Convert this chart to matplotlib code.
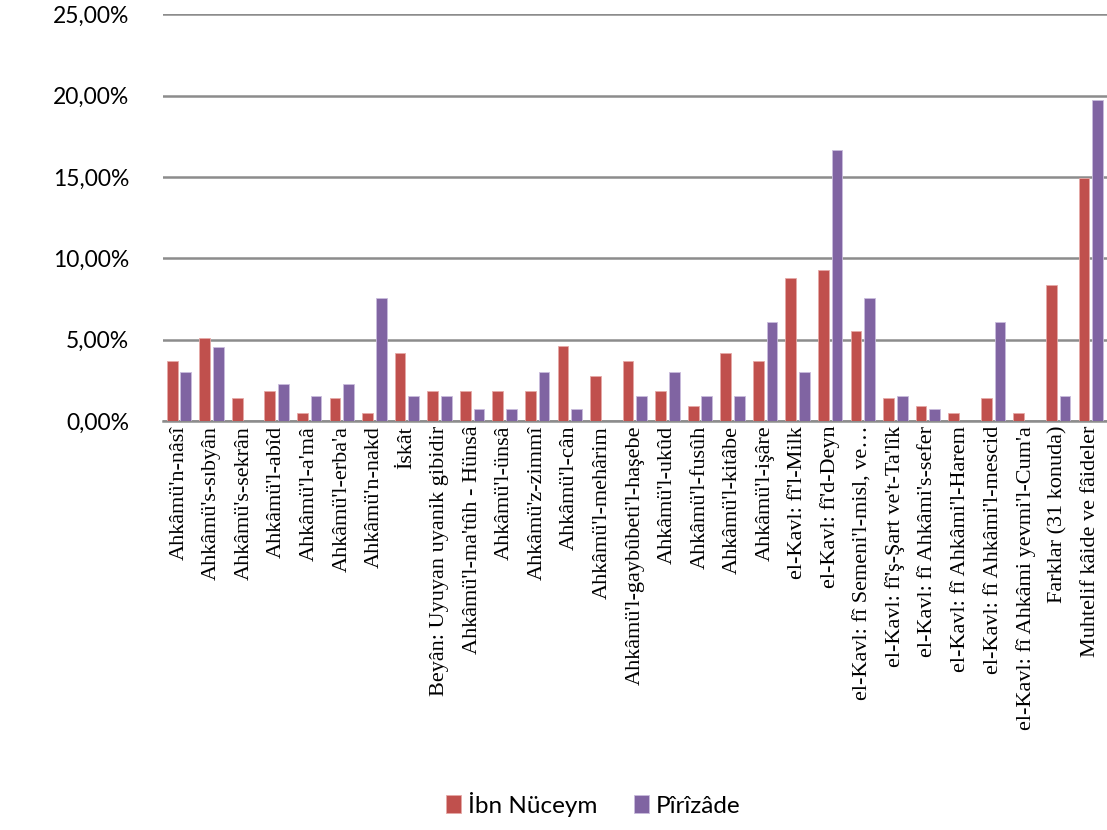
import matplotlib.pyplot as plt
import numpy as np
from matplotlib.ticker import FuncFormatter

# konu basliklari
categories = [
    "Ahkâmü'n-nâsî", "Ahkâmü's-sıbyân", "Ahkâmü's-sekrân", "Ahkâmü'l-abîd",
    "Ahkâmü'l-a'mâ", "Ahkâmü'l-erba'a", "Ahkâmü'n-nakd", "İskât",
    "Beyân: Uyuyan uyanik gibidir", "Ahkâmü'l-ma'tûh - Hünsâ", "Ahkâmü'l-ünsâ",
    "Ahkâmü'z-zimmî", "Ahkâmü'l-cân", "Ahkâmü'l-mehârim",
    "Ahkâmü'l-gaybûbeti'l-haşebe", "Ahkâmü'l-ukûd", "Ahkâmü'l-fusûh",
    "Ahkâmü'l-kitâbe", "Ahkâmü'l-işâre", "el-Kavl: fî'l-Milk", "el-Kavl: fî'd-Deyn",
    "el-Kavl: fî Semeni'l-misl, ve…", "el-Kavl: fî'ş-Şart ve't-Ta'lîk",
    "el-Kavl: fî Ahkâmi's-sefer", "el-Kavl: fî Ahkâmi'l-Harem",
    "el-Kavl: fî Ahkâmi'l-mescid", "el-Kavl: fî Ahkâmi yevmi'l-Cum'a",
    "Farklar (31 konuda)", "Muhtelif kâide ve fâideler",
]

# yuzde degerler
ibn_nuceym = [3.70, 5.09, 1.39, 1.85, 0.46, 1.39, 0.46, 4.17, 1.85, 1.85, 1.85,
              1.85, 4.63, 2.78, 3.70, 1.85, 0.93, 4.17, 3.70, 8.80, 9.26, 5.56,
              1.39, 0.93, 0.46, 1.39, 0.46, 8.33, 14.95]
pirizade = [3.03, 4.55, 0, 2.27, 1.52, 2.27, 7.58, 1.52, 1.52, 0.76, 0.76,
            3.03, 0.76, 0, 1.52, 3.03, 1.52, 1.52, 6.06, 3.03, 16.67, 7.58,
            1.52, 0.76, 0, 6.06, 0, 1.52, 19.70]

red = '#C0504D'
purple = '#8064A2'

fig = plt.figure(figsize=(11.07, 8.30), dpi=100)
ax = fig.add_axes([0.147, 0.4928, 0.853, 0.490])

x = np.arange(len(categories))
w = 0.33
ax.bar(x - 0.21, ibn_nuceym, w, color=red, edgecolor='#e6a9a7', linewidth=0.6,
       label='İbn Nüceym', zorder=3)
ax.bar(x + 0.21, pirizade, w, color=purple, edgecolor='#c9bcdc', linewidth=0.6,
       label='Pîrîzâde', zorder=3)

ax.set_xlim(-0.5, len(categories) - 0.5)
ax.set_ylim(0, 25)
ax.set_yticks([0, 5, 10, 15, 20, 25])
ax.yaxis.set_major_formatter(FuncFormatter(lambda v, p: f'{v:.2f}%'.replace('.', ',')))
ax.grid(axis='y', color='#8c8c8c', linewidth=1.8, zorder=0)
for s in ['top', 'right', 'left']:
    ax.spines[s].set_visible(False)
ax.spines['bottom'].set_color('#8c8c8c')
ax.spines['bottom'].set_linewidth(1.8)
ax.tick_params(axis='both', length=0)
ax.tick_params(axis='y', pad=24)

ax.set_xticks(x)
ax.set_xticklabels(categories, rotation=90, fontfamily='Liberation Serif',
                   fontsize=16)
for lbl in ax.get_yticklabels():
    lbl.set_fontfamily('Lato')
    lbl.set_fontsize(16.5)

fig.legend(loc='center', bbox_to_anchor=(0.536, 0.031), ncol=2, frameon=False,
           prop={'family': 'Lato', 'size': 17.5}, handlelength=0.6,
           handleheight=0.75, handletextpad=0.3, columnspacing=1.5)

fig.savefig('out.png', dpi=100)
